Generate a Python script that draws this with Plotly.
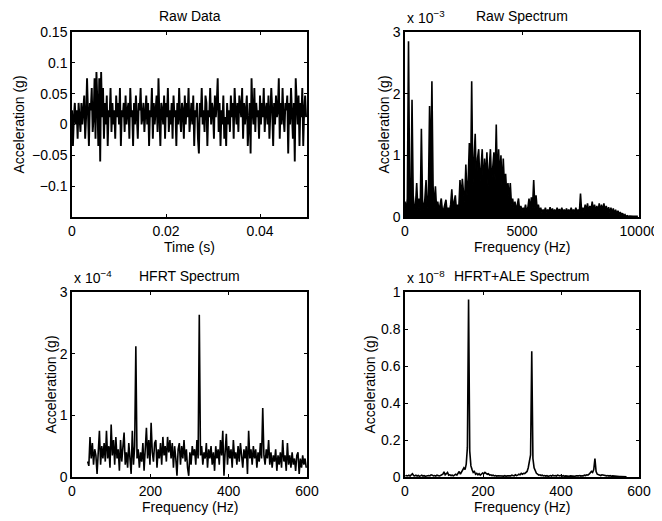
import plotly.graph_objects as go

# ── Raw data (time signal, g) ─────────────────────────────────────────────────
RAW_DT = 0.0002  # seconds between samples
raw_accel = [
    0.023, -0.035, 0.012, 0.035, 0, 0.023, -0.023, 0.035, 0.012, -0.012, 0.035, 0, 0.023, 0.047, -0.023, 0.012, 0.075, 0, -0.035, 0.035, 0.023, 0.059, -0.012, 0.012, 0.075,
    -0.023, 0.085, 0.035, -0.035, 0.075, -0.06, 0.085, 0.012, 0.059, -0.023, 0.035, 0, 0.047, -0.035, 0.023, 0.012, 0.059, -0.012, 0.035, 0, 0.023, -0.023, 0.047, 0.012, 0.035,
    0, 0.059, -0.035, 0.023, 0.012, 0.035, -0.012, 0.047, 0, 0.023, 0.035, -0.023, 0.059, 0.012, 0.023, -0.035, 0.035, 0, 0.047, 0.012, -0.023, 0.035, 0.023, 0.059, 0,
    0.012, 0.035, -0.012, 0.023, 0.047, 0, 0.035, -0.035, 0.023, 0.012, 0.059, -0.023, 0.035, 0, 0.023, 0.047, -0.012, 0.075, 0.012, -0.035, 0.035, 0.023, 0, 0.047, -0.023,
    0.035, 0.012, 0.059, -0.012, 0.023, 0, 0.035, -0.023, 0.047, 0.012, 0.023, -0.035, 0.035, 0, 0.059, 0.012, -0.012, 0.035, 0.023, -0.023, 0.047, 0, 0.035, 0.012, 0.059,
    -0.012, 0.023, 0.035, 0, 0.047, -0.035, 0.023, 0.012, 0.035, -0.023, -0.047, 0.035, 0.012, 0.059, 0, 0.023, -0.012, 0.047, 0.035, -0.035, 0.023, 0.012, 0.059, 0, 0.035,
    0.023, -0.023, 0.047, 0.012, 0.035, 0.075, -0.012, 0.035, -0.035, 0.023, 0, 0.047, -0.023, 0.012, -0.035, 0.035, 0, 0.023, -0.012, 0.047, 0.012, 0.035, -0.023, 0.059, 0.023,
    0, 0.035, -0.012, 0.047, 0.023, 0.012, 0.059, -0.023, 0.035, 0, 0.023, 0.047, -0.035, 0.012, 0.035, -0.047, 0.075, 0.023, 0, 0.059, -0.012, 0.035, 0.012, 0.023, -0.023,
    0.047, 0, 0.035, 0.012, 0.059, -0.012, 0.023, 0.035, 0, 0.047, -0.023, 0.012, 0.059, 0.023, -0.035, 0.035, 0, 0.047, 0.012, 0.023, 0.075, -0.023, 0.035, 0, 0.059,
    0.012, -0.012, 0.035, 0.023, 0.047, -0.047, 0.035, 0, 0.059, 0.012, -0.023, 0.035, -0.06, 0.075, 0.023, 0, 0.047, -0.035, 0.035, 0.012, 0.059, -0.035, 0.023, 0.047, 0.012,
]

# ── Raw spectrum (x 10^-3 g), 50 Hz bins ─────────────────────────────────────
RAW_DF = 50
raw_spec = [
    0.25, 0.1, 0.3, 2.85, 0.4, 0.12, 1.9, 0.35, 0.12, 0.2, 0.55, 0.12, 0.3, 0.1, 1.43, 0.25, 0.12, 0.3, 0.6, 0.15,
    0.35, 1.8, 0.7, 2.2, 0.5, 0.15, 0.5, 0.12, 0.25, 0.1, 0.2, 0.3, 0.1, 0.12, 0.2, 0.28, 0.08, 0.15, 0.1, 0.2,
    0.45, 0.12, 0.25, 0.35, 0.1, 0.2, 0.15, 0.6, 0.3, 0.62, 0.4, 0.25, 0.85, 0.35, 0.6, 1.2, 0.45, 2.2, 0.5, 0.9,
    1.35, 0.5, 0.95, 1.1, 0.55, 0.8, 1.1, 0.45, 0.95, 0.6, 1.05, 0.5, 0.85, 1.1, 0.55, 0.9, 1.05, 0.6, 1.5, 0.5,
    1.1, 0.6, 1.0, 0.45, 0.95, 0.5, 0.7, 0.35, 0.55, 0.3, 0.55, 0.2, 0.3, 0.15, 0.25, 0.1, 0.2, 0.3, 0.1, 0.18,
    0.1, 0.15, 0.1, 0.2, 0.08, 0.15, 0.3, 0.12, 0.32, 0.15, 0.6, 0.15, 0.35, 0.12, 0.2, 0.08, 0.15, 0.07, 0.12, 0.08,
    0.15, 0.07, 0.12, 0.08, 0.16, 0.07, 0.14, 0.08, 0.12, 0.06, 0.15, 0.08, 0.13, 0.07, 0.15, 0.08, 0.12, 0.07, 0.14, 0.08,
    0.12, 0.07, 0.15, 0.08, 0.12, 0.07, 0.15, 0.08, 0.12, 0.07, 0.38, 0.08, 0.15, 0.09, 0.2, 0.1, 0.22, 0.08, 0.18, 0.1,
    0.25, 0.1, 0.2, 0.1, 0.18, 0.08, 0.22, 0.1, 0.2, 0.08, 0.22, 0.1, 0.18, 0.08, 0.16, 0.07, 0.15, 0.06, 0.14, 0.05,
    0.12, 0.05, 0.1, 0.04, 0.08, 0.03, 0.06, 0.02, 0.04, 0.01, 0.02, 0.01, 0.015, 0.01, 0.01, 0.012, 0.01, 0.01, 0.01, 0.01,
]

# ── HFRT spectrum (x 10^-4 g), 3 Hz bins starting at 40 Hz ───────────────────
HFRT_F0, HFRT_DF = 40, 3
hfrt_spec = [
    0.25, 0.18, 0.65, 0.3, 0.55, 0.2, 0.45, 0.35, 0.05, 0.4, 0.75, 0.2, 0.5, 0.3, 0.55, 0.25, 0.75, 0.3, 0.5, 0.15,
    0.85, 0.35, 0.6, 0.2, 0.65, 0.3, 0.45, 0.1, 0.6, 0.25, 0.5, 0.72, 0.2, 0.4, 0.15, 0.55, 0.3, 0.05, 0.75, 0.2,
    0.5, 2.12, 0.3, 0.45, 0.15, 0.4, 0.25, 0.55, 0.1, 0.5, 0.8, 0.3, 0.6, 0.2, 0.88, 0.4, 0.25, 0.55, 0.6, 0.15,
    0.45, 0.3, 0.55, 0.2, 0.65, 0.35, 0.5, 0.25, 0.65, 0.4, 0.6, 0.3, 0.55, 0.15, 0.5, 0.3, 0.02, 0.45, 0.55, 0.2,
    0.5, 0.3, 0.6, 0.25, 0.45, 0.15, 0.02, 0.4, 0.2, 0.5, 0.35, 0.45, 0.2, 0.6, 0.3, 2.63, 0.35, 0.5, 0.2, 0.4,
    0.3, 0.55, 0.15, 0.45, 0.3, 0.5, 0.2, 0.4, 0.1, 0.5, 0.3, 0.45, 0.2, 0.6, 0.35, 0.75, 0.02, 0.4, 0.7, 0.2,
    0.5, 0.3, 0.45, 0.15, 0.6, 0.3, 0.4, 0.2, 0.5, 0.25, 0.55, 0.35, 0.15, 0.45, 0.3, 0.5, 0.05, 0.75, 0.3, 0.45,
    0.2, 0.5, 0.3, 0.45, 0.15, 0.4, 0.25, 0.55, 0.3, 1.12, 0.35, 0.2, 0.45, 0.3, 0.6, 0.2, 0.4, 0.15, 0.35, 0.25,
    0.45, 0.1, 0.35, 0.2, 0.4, 0.15, 0.6, 0.25, 0.35, 0.1, 0.55, 0.2, 0.35, 0.15, 0.4, 0.2, 0.3, 0.1, 0.35, 0.4,
    0.05, 0.3, 0.15, 0.35, 0.2, 0.3, 0.15,
]

# ── HFRT+ALE spectrum (x 10^-8 g), 3 Hz bins starting at 1 Hz ────────────────
ALE_F0, ALE_DF = 1, 3
ale_spec = [
    0.005, 0.008, 0.006, 0.01, 0.005, 0.012, 0.018, 0.008, 0.006, 0.01,
    0.005, 0.008, 0.004, 0.006, 0.01, 0.005, 0.007, 0.004, 0.006, 0.005,
    0.008, 0.006, 0.012, 0.01, 0.006, 0.008, 0.005, 0.01, 0.007, 0.006,
    0.008, 0.01, 0.015, 0.028, 0.012, 0.018, 0.025, 0.01, 0.012, 0.008,
    0.01, 0.006, 0.012, 0.015, 0.01, 0.02, 0.03, 0.015, 0.025, 0.035,
    0.05, 0.04, 0.07, 0.16, 0.96, 0.14, 0.06, 0.04, 0.025, 0.03,
    0.015, 0.02, 0.012, 0.018, 0.01, 0.015, 0.022, 0.018, 0.025, 0.02,
    0.015, 0.018, 0.01, 0.012, 0.008, 0.01, 0.006, 0.008, 0.005, 0.007,
    0.006, 0.005, 0.008, 0.006, 0.005, 0.007, 0.004, 0.006, 0.005, 0.008,
    0.006, 0.01, 0.008, 0.006, 0.012, 0.008, 0.01, 0.015, 0.012, 0.02,
    0.015, 0.02, 0.018, 0.025, 0.03, 0.05, 0.08, 0.12, 0.68, 0.1,
    0.05, 0.03, 0.02, 0.015, 0.01, 0.012, 0.008, 0.01, 0.006, 0.008,
    0.005, 0.007, 0.004, 0.006, 0.008, 0.005, 0.01, 0.006, 0.008, 0.005,
    0.01, 0.008, 0.006, 0.009, 0.005, 0.007, 0.004, 0.006, 0.005, 0.007,
    0.004, 0.006, 0.005, 0.008, 0.006, 0.004, 0.007, 0.005, 0.006, 0.008,
    0.005, 0.007, 0.006, 0.01, 0.008, 0.012, 0.01, 0.015, 0.02, 0.03,
    0.025, 0.04, 0.1, 0.03, 0.015, 0.012, 0.01, 0.008, 0.012, 0.01,
    0.008, 0.01, 0.006, 0.008, 0.005, 0.007, 0.004, 0.006, 0.005, 0.004,
    0.003, 0.004, 0.003, 0.002, 0.003, 0.002, 0.003, 0.002, 0.002, 0.001,
]

# sample grids
raw_t = [i * RAW_DT for i in range(len(raw_accel))]
raw_f = [i * RAW_DF for i in range(len(raw_spec))]
hfrt_f = [HFRT_F0 + i * HFRT_DF for i in range(len(hfrt_spec))]
ale_f = [ALE_F0 + i * ALE_DF for i in range(len(ale_spec))]

# ── Layout constants (page pixels; the div sits 8px in from the page corner) ──
PAGE_W, PAGE_H = 662, 521
OFFSET = 8
W, H = PAGE_W - OFFSET, PAGE_H - OFFSET
FONT = "Liberation Sans, Arial, Helvetica, sans-serif"
FS = 14
COLS = [(72, 307), (405, 639)]
ROWS = [(32, 217), (292, 477)]


def px_x(p):
    return (p - OFFSET) / W


def px_y(p):
    return 1 - (p - OFFSET) / H


fig = go.Figure()

panels = [
    # (x, y, row, col, title, xlabel, xrange, xticks, yrange, yticks, yticktext, exponent, linewidth, fill)
    (raw_t, raw_accel, 0, 0, "Raw Data", "Time (s)", [0, 0.05], [0, 0.02, 0.04],
     [-0.15, 0.15], [-0.1, -0.05, 0, 0.05, 0.1, 0.15], ["\u22120.1", "\u22120.05", "0", "0.05", "0.1", "0.15"], None, 1.9, "none"),
    (raw_f, raw_spec, 0, 1, "Raw Spectrum", "Frequency (Hz)", [0, 10000], [0, 5000, 10000],
     [0, 3], [0, 1, 2, 3], ["0", "1", "2", "3"], "\u22123", 1.6, "tozeroy"),
    (hfrt_f, hfrt_spec, 1, 0, "HFRT Spectrum", "Frequency (Hz)", [0, 600], [0, 200, 400, 600],
     [0, 3], [0, 1, 2, 3], ["0", "1", "2", "3"], "\u22124", 1.6, "none"),
    (ale_f, ale_spec, 1, 1, "HFRT+ALE Spectrum", "Frequency (Hz)", [0, 600], [0, 200, 400, 600],
     [0, 1], [0, 0.2, 0.4, 0.6, 0.8, 1], ["0", "0.2", "0.4", "0.6", "0.8", "1"], "\u22128", 1.6, "none"),
]

ylabel_offset = {(0, 0): 54, (0, 1): 22, (1, 0): 22, (1, 1): 36}

annotations = []
for n, (x, y, r, c, title, xlabel, xr, xt, yr, yt, ytt, expo, lw, fill) in enumerate(panels, start=1):
    xa = "xaxis" if n == 1 else f"xaxis{n}"
    ya = "yaxis" if n == 1 else f"yaxis{n}"
    sfx = "" if n == 1 else str(n)
    x0, x1 = COLS[c]
    y0, y1 = ROWS[r]

    fig.add_trace(go.Scatter(
        x=x, y=y, mode="lines",
        line=dict(color="black", width=lw),
        fill=fill, fillcolor="black",
        xaxis=f"x{sfx}", yaxis=f"y{sfx}",
        showlegend=False, hoverinfo="skip",
    ))

    axis_style = dict(
        showline=True, linecolor="black", linewidth=1.5, mirror="ticks",
        ticks="inside", ticklen=3, tickcolor="black", tickwidth=1,
        showgrid=False, zeroline=False, automargin=False,
        tickfont=dict(family=FONT, size=FS, color="black"),
    )
    fig.layout[xa] = dict(
        axis_style, domain=[px_x(x0), px_x(x1)], range=xr,
        tickvals=xt, ticktext=[f"{v:g}" for v in xt],
        anchor=f"y{sfx}",
    )
    fig.layout[ya] = dict(
        axis_style, domain=[px_y(y1), px_y(y0)], range=yr,
        tickvals=yt, ticktext=ytt,
        anchor=f"x{sfx}",
    )

    # title above the axes
    annotations.append(dict(
        text=title, x=px_x((x0 + x1) / 2), y=px_y(y0 - 6),
        xref="paper", yref="paper", xanchor="center", yanchor="bottom",
        showarrow=False, font=dict(family=FONT, size=FS, color="black"),
    ))
    # x label
    annotations.append(dict(
        text=xlabel, x=px_x((x0 + x1) / 2), y=px_y(y1 + 30),
        xref="paper", yref="paper", xanchor="center", yanchor="middle",
        showarrow=False, font=dict(family=FONT, size=FS, color="black"),
    ))
    # y label
    annotations.append(dict(
        text="Acceleration (g)", textangle=-90,
        x=px_x(x0 - ylabel_offset[(r, c)]), y=px_y((y0 + y1) / 2),
        xref="paper", yref="paper", xanchor="center", yanchor="middle",
        showarrow=False, font=dict(family=FONT, size=FS, color="black"),
    ))
    # MATLAB-style exponent
    if expo:
        annotations.append(dict(
            text=f"x 10<sup>{expo}</sup>", x=px_x(x0), y=px_y(y0 - 4),
            xref="paper", yref="paper", xanchor="left", yanchor="bottom",
            showarrow=False, font=dict(family=FONT, size=FS, color="black"),
        ))

fig.update_layout(
    width=W, height=H, autosize=False,
    margin=dict(l=0, r=0, t=0, b=0),
    paper_bgcolor="white", plot_bgcolor="white",
    annotations=annotations,
    font=dict(family=FONT, size=FS, color="black"),
)

fig.write_html("out.html")
